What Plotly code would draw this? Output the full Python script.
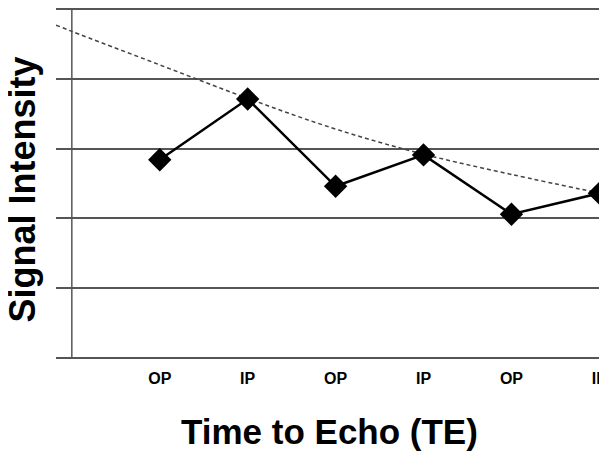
import plotly.graph_objects as go

categories = ["OP", "IP", "OP", "IP", "OP", "IP"]
positions = [1, 2, 3, 4, 5, 6]
signal = [2.84, 3.71, 2.46, 2.91, 2.06, 2.36]

decay_x = [-0.18, 0, 1, 2, 3, 4, 5, 6.05]
decay_y = [4.77, 4.68, 4.20, 3.72, 3.28, 2.92, 2.63, 2.35]

grid_vals = [0, 1, 2, 3, 4, 5]

fig = go.Figure()
fig.add_trace(go.Scatter(
    x=decay_x, y=decay_y, mode="lines", line_shape="spline",
    line=dict(color="#444444", width=1.5, dash="4px,3px"),
    showlegend=False, hoverinfo="skip"))
fig.add_trace(go.Scatter(
    x=positions, y=signal, mode="lines+markers",
    line=dict(color="black", width=2.5),
    marker=dict(symbol="diamond", size=18, color="black"),
    cliponaxis=False, showlegend=False))

fig.add_shape(type="line", xref="x", yref="y", x0=0, x1=0, y0=0, y1=5,
              line=dict(color="#555555", width=1.5), layer="below")

fig.update_layout(
    width=599, height=445,
    margin=dict(l=48, r=0, t=0, b=94),
    plot_bgcolor="white", paper_bgcolor="white",
    font=dict(family="Liberation Sans, Arial, sans-serif", color="black"),
    xaxis=dict(range=[-0.18, 6.03], tickvals=positions, ticktext=categories,
               showgrid=False, zeroline=False, showline=False,
               tickfont=dict(size=16, family="Liberation Sans, Arial", weight="bold"),
               ticklabelstandoff=8, ticklabeloverflow="allow", ticks=""),
    yaxis=dict(range=[-0.015, 5.015], tickvals=grid_vals, showticklabels=False,
               showgrid=True, gridcolor="#555555", gridwidth=1.5,
               zeroline=False, showline=False, ticks=""),
    annotations=[
        dict(text="<b>Time to Echo (TE)</b>", xref="paper", yref="paper",
             x=0.5, y=0, yshift=-72, xanchor="center", yanchor="middle",
             showarrow=False, font=dict(size=35)),
        dict(text="<b>Signal Intensity</b>", xref="paper", yref="paper",
             x=0, xshift=-34, y=0.5, yshift=-6, xanchor="center", yanchor="middle",
             textangle=-90, showarrow=False, font=dict(size=36)),
    ],
)

fig.write_html("out.html")
